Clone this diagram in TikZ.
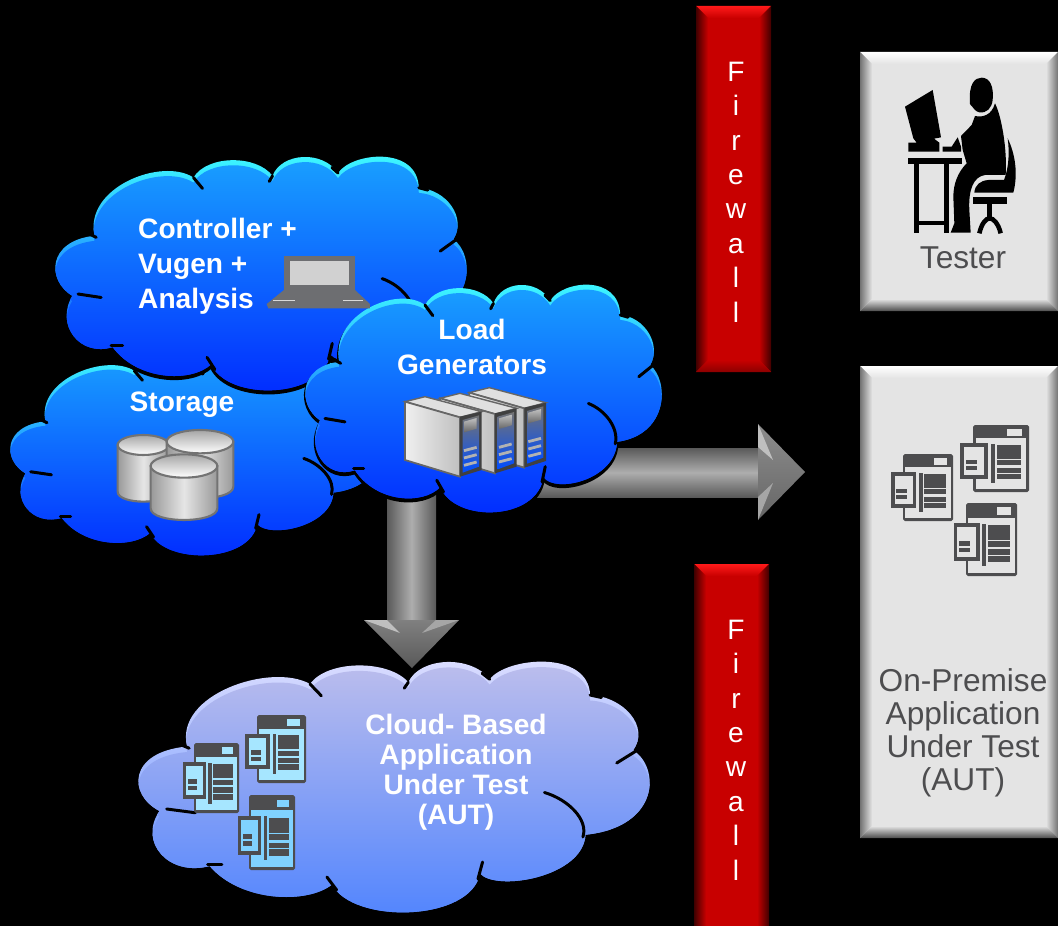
\documentclass[tikz,border=0pt]{standalone}
\usepackage{fontspec}
\setmainfont{Liberation Sans}
\definecolor{iconGray}{HTML}{4D4D4F}
\definecolor{boxGray}{HTML}{E4E4E4}
\definecolor{wallRed}{HTML}{C80000}
\definecolor{laptopGray}{HTML}{6D6E71}
\tikzset{
  cloudtext/.style={text=white, font=\bfseries\fontsize{16}{19.8}\selectfont, align=center},
  auttext/.style={text=white, font=\bfseries\fontsize{16}{17}\selectfont, align=center},
  boxtext/.style={text=iconGray, font=\fontsize{18}{18.7}\selectfont, align=center},
  walltext/.style={text=white, font=\fontsize{16}{19.6}\selectfont, align=center},
  tick/.style={black, line width=1.7pt, line cap=round},
  shaftH/.style={top color=black!65, bottom color=black!65, middle color=black!32},
  shaftV/.style={left color=black!65, right color=black!65, middle color=black!32},
}
\newcommand{\cloudpath}{(.042,.596)
  .. controls (-.02,.53) and (-.02,.36) .. (.096,.338)
  .. controls (.07,.13) and (.26,.0) .. (.336,.088)
  .. controls (.37,-.01) and (.49,-.01) .. (.528,.081)
  .. controls (.55,-.02) and (.65,-.03) .. (.687,.069)
  .. controls (.72,-.02) and (.88,-.05) .. (.883,.132)
  .. controls (.95,.14) and (1.0,.26) .. (.967,.353)
  .. controls (1.02,.42) and (1.02,.66) .. (.874,.691)
  .. controls (.87,.86) and (.70,.92) .. (.668,.846)
  .. controls (.65,1.04) and (.42,1.05) .. (.379,.890)
  .. controls (.33,.97) and (.2,.96) .. (.140,.816)
  .. controls (.06,.86) and (.0,.72) .. (.042,.596) -- cycle}
\newcommand{\drawcloud}[7]{
  \begin{scope}[shift={(#1,#2)}, xscale=#3, yscale=#4]
    \fill[black, draw=black, line width=1.5pt, shift={(0,.012)}] \cloudpath;
    \begin{scope}
      \clip \cloudpath;
      \shade[top color=#7, bottom color=#6] \cloudpath;
      \shade[top color=#5, bottom color=#6, shift={(0,.022)}] \cloudpath;
    \end{scope}
    \draw[tick] (.336,.088) -- (.358,.135);
    \draw[tick] (.528,.081) -- (.520,.105);
    \draw[tick] (.687,.069) -- (.672,.045);
    \draw[tick] (.883,.132) -- (.905,.142);
    \draw[tick] (.972,.357) -- (.935,.404);
    \draw[tick] (.794,.522) .. controls (.84,.55) and (.88,.63) .. (.869,.70);
    \draw[tick] (.673,.80) -- (.664,.868);
    \draw[tick] (.369,.86) -- (.388,.912);
    \draw[tick] (.136,.809) -- (.164,.809);
    \draw[tick] (.056,.588) -- (.112,.603);
    \draw[tick] (.085,.332) -- (.100,.345);
  \end{scope}
}
\newcommand{\bevelbox}[8]{
  \fill[#5] (#1,#2) rectangle (#3,#4);
  \shade[top color=#6, bottom color=#5] (#1,#2) -- (#3,#2) -- ({#3-12},{#2+12}) -- ({#1+12},{#2+12}) -- cycle;
  \shade[left color=#7, right color=#5] (#1,#2) -- ({#1+12},{#2+12}) -- ({#1+12},{#4-12}) -- (#1,#4) -- cycle;
  \shade[right color=#7, left color=#5] (#3,#2) -- ({#3-12},{#2+12}) -- ({#3-12},{#4-12}) -- (#3,#4) -- cycle;
  \shade[bottom color=#8, top color=#5] (#1,#4) -- (#3,#4) -- ({#3-12},{#4-12}) -- ({#1+12},{#4-12}) -- cycle;
}
\newcommand{\pageicon}[6]{
  \begin{scope}[shift={(#1,#2)}, xscale=#3/166, yscale=#4/200]
    \fill[#6, rounded corners=1pt] (0,0) rectangle (166,200);
    \fill[#5] (8,40) rectangle (158,192);
    \fill[#5] (102,12) rectangle (145,32);
    \fill[#6] (-40,55) rectangle (44,160);
    \fill[#5] (-28,67) rectangle (32,148);
    \fill[#6] (-22,103) rectangle (12,117);
    \fill[#6] (-22,123) rectangle (12,135);
    \fill[#6] (53,57) rectangle (65,173);
    \fill[#6] (71,60) rectangle (143,100);
    \fill[#6] (71,105) rectangle (143,120);
    \fill[#6] (71,127) rectangle (143,142);
    \fill[#6] (71,145) rectangle (143,162);
  \end{scope}
}
\newcommand{\servertower}[2]{
  \begin{scope}[shift={(#1,#2)}]
    \filldraw[draw=black!60, fill=black!12, line width=.8pt] (315,365) -- (375,350) -- (545,395) -- (480,412) -- cycle;
    \shade[draw=black!60, left color=black!6, right color=black!25, line width=1pt] (315,365) -- (480,412) -- (480,590) -- (315,540) -- cycle;
    \fill[black!75] (480,410) -- (545,395) -- (545,570) -- (480,590) -- cycle;
    \shade[top color=black!55, bottom color=blue!70!cyan] (488,420) -- (537,406) -- (537,560) -- (488,578) -- cycle;
    \shade[top color=black!25, bottom color=black!60] (492,425) -- (530,414) -- (530,446) -- (492,457) -- cycle;
    \foreach \s in {0, 22, 44} {
      \draw[black!30, line width=1.6pt] (492,{512+\s}) -- (530,{502+\s});
    }
  \end{scope}
}
\newcommand{\dbcyl}[5]{
  \shade[draw=black!55, line width=1.2pt, left color=black!40, right color=black!40, middle color=black!10]
    ({#1-#3},#2) -- ({#1-#3},{#2+#5})
    .. controls ({#1-#3},{#2+#5+1.33*#4}) and ({#1+#3},{#2+#5+1.33*#4}) .. ({#1+#3},{#2+#5})
    -- ({#1+#3},#2) -- cycle;
  \shade[draw=black!55, line width=1.2pt, top color=black!35, bottom color=white] (#1,#2) ellipse [x radius=#3, y radius=#4];
}
\begin{document}
\begin{tikzpicture}[x=0.02cm, y=-0.02cm]
  \useasboundingbox (0,0) rectangle (1058,926);
  \fill[black] (0,0) rectangle (1058,926);
  \clip (0,0) rectangle (1058,926);

  \bevelbox{696}{6}{771}{372}{wallRed}{red!90!white}{black!75!red}{black!45!red}
  \bevelbox{694}{564}{769}{940}{wallRed}{red!90!white}{black!75!red}{black!45!red}
  \node[walltext] (wallTop) at (736,192) {F\\i\\r\\e\\w\\a\\l\\l};
  \node[walltext] (wallBottom) at (736,750) {F\\i\\r\\e\\w\\a\\l\\l};

  \bevelbox{860}{52}{1058}{311}{boxGray}{white}{black!55}{black!70}
  \bevelbox{860}{366}{1058}{838}{boxGray}{white}{black!55}{black!70}
  \node[boxtext] (tester) at (963,258) {Tester};
  \node[boxtext] (onPremise) at (963,733) {On-Premise\\Application\\Under Test\\(AUT)};
  \pageicon{973}{425}{56}{67}{boxGray}{iconGray}
  \pageicon{903}{454}{50}{67}{boxGray}{iconGray}
  \pageicon{966}{503}{51}{73}{boxGray}{iconGray}

  \begin{scope}[shift={(860,50)}, scale=1/3]
    \fill (135,170) -- (218,120) -- (243,262) -- (222,266) -- (238,278) -- (238,305) -- (145,305) -- (145,278) -- (170,278) -- (160,265) -- cycle;
    \fill (248,290) -- (275,290) -- (293,262) -- (303,290) -- (303,305) -- (248,305) -- cycle;
    \fill (143,323) rectangle (305,342);
    \fill (163,342) rectangle (177,550);
    \fill (252,342) rectangle (266,550);
    \fill (177,512) rectangle (252,525);
    \fill (330,162) .. controls (325,100) and (345,83) .. (365,83) .. controls (390,83) and (402,110) .. (398,150) .. controls (395,175) and (380,190) .. (358,187) .. controls (345,185) and (340,172) .. (332,165) -- cycle;
    \fill (405,160) .. controls (395,195) and (370,203) .. (345,198) -- (335,225) -- (303,258) -- (308,300) -- (320,340) .. controls (295,365) and (280,400) .. (280,440) -- (283,520) -- (272,548) -- (332,548) -- (328,480) .. controls (325,420) and (340,380) .. (375,375) -- (437,375) .. controls (442,300) and (425,200) .. (405,160);
    \fill (443,265) .. controls (465,310) and (475,370) .. (460,428) -- (343,428) .. controls (345,405) and (360,392) .. (385,390) -- (432,390) .. controls (448,350) and (448,300) .. (443,265);
    \fill (338,442) rectangle (440,462);
    \fill (382,462) rectangle (395,505);
    \draw[line width=2.6pt] (358,550) .. controls (365,520) and (378,505) .. (389,505) .. controls (400,505) and (415,520) .. (422,550);
  \end{scope}

  \drawcloud{138}{662}{512}{250}{black!30!blue!25!white}{blue!70!cyan!70!white}{blue!12!white}

  \shade[shaftH] (500,448) rectangle (758,497);
  \shade[top color=black!45, bottom color=black!60] (758,424) -- (805,472) -- (758,520) -- cycle;
  \fill[black!25] (758,424) -- (773,460) -- (758,447) -- cycle;
  \fill[black!35] (758,520) -- (773,483) -- (758,497) -- cycle;
  \shade[shaftV] (387,480) rectangle (436,620);
  \shade[top color=black!50, bottom color=black!65] (364,620) -- (459,620) -- (412,668) -- cycle;
  \fill[black!25] (364,620) -- (400,633) -- (387,620) -- cycle;
  \fill[black!35] (459,620) -- (422,633) -- (436,620) -- cycle;

  \drawcloud{10}{353}{370}{202}{cyan!60!blue!90!white}{blue!85!cyan}{cyan!75!white}
  \drawcloud{55}{157}{412}{233}{cyan!60!blue!90!white}{blue!85!cyan}{cyan!75!white}
  \drawcloud{305}{285}{357}{227}{cyan!60!blue!90!white}{blue!85!cyan}{cyan!75!white}

  \node[cloudtext, align=left, anchor=west] (controller) at (132,266) {Controller +\\Vugen +\\Analysis};
  \node[cloudtext] (storage) at (182,405) {Storage};
  \node[cloudtext] (loadGen) at (472,347) {Load\\Generators};
  \node[auttext] (cloudAut) at (456,772) {Cloud- Based\\Application\\Under Test\\(AUT)};

  \begin{scope}[shift={(0,150)}, scale=1/3]
    \fill[laptopGray] (852,317) rectangle (1065,420);
    \fill[black!18] (870,333) rectangle (1047,405);
    \fill[laptopGray] (852,420) -- (1065,420) -- (1110,462) -- (1110,475) -- (805,475) -- (800,462) -- cycle;
    \draw[black!15, line width=.8pt] (820,452) -- (885,452);
    \draw[black!15, line width=.8pt] (1030,452) -- (1090,452);
    \dbcyl{430}{885}{77}{30}{140}
    \dbcyl{600}{875}{100}{35}{135}
    \dbcyl{552}{948}{100}{35}{127}
  \end{scope}

  \begin{scope}[shift={(300,280)}, scale=1/3]
    \servertower{193}{-27}
    \servertower{105}{-10}
    \servertower{0}{0}
  \end{scope}

  \pageicon{257}{715}{49}{68}{blue!28!cyan!35!white}{iconGray}
  \pageicon{194}{743}{45}{70}{blue!28!cyan!35!white}{iconGray}
  \pageicon{249}{795}{46}{75}{blue!35!cyan!50!white}{iconGray}
\end{tikzpicture}
\end{document}
